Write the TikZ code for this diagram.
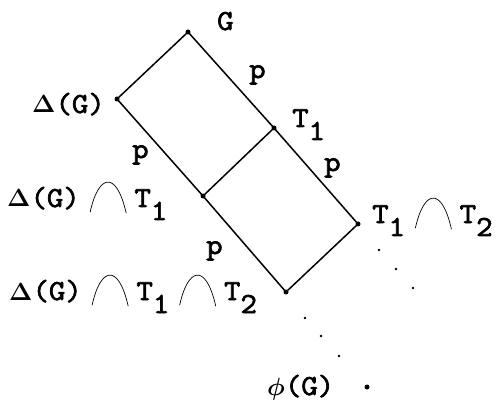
\documentclass[tikz,border=0pt]{standalone}
\usepackage{fontspec}
\newfontfamily\tw{Latin Modern Mono}[FakeStretch=1.1,FakeBold=2.4]
\newcommand\arccap{\hspace{10pt}\tikz[baseline=0pt,x=1pt,y=1pt]\draw[line width=0.7pt,line cap=round] (0,-5) .. controls (8,32) and (26,38) .. (36,-6);\hspace{8pt}}
\newcommand\subs[1]{\raisebox{-13pt}{#1}}
\newcommand\gk[1]{{\fontsize{25}{25}\selectfont$\boldsymbol{#1}$}}
\newcommand\dG{\gk{\Delta}(G)}
\usepackage{amsmath}
\begin{document}
\begin{tikzpicture}[x=1pt,y=-1pt,
  lbl/.style={inner sep=0pt,anchor=base west,font=\fontsize{29}{32}\selectfont\tw},
  vtx/.style={circle,fill,inner sep=0pt,minimum size=5pt},
  sdot/.style={circle,fill,inner sep=0pt,minimum size=2.6pt},
  edge/.style={line width=1.5pt}]
\useasboundingbox (0,0) rectangle (500,403);
% vertices
\node[vtx] (g) at (188,32) {};
\node[vtx] (d) at (117,99) {};
\node[vtx] (t1) at (274,128) {};
\node[vtx] (m) at (203,196) {};
\node[vtx] (tt) at (358,224) {};
\node[vtx] (b) at (286,292) {};
\draw[edge] (d.center) -- (g.center) -- (t1.center) -- (tt.center) -- (b.center) -- (m.center) -- (d.center);
\draw[edge] (t1.center) -- (m.center);
% dotted continuations
\node[sdot] (a1) at (379,250) {};
\node[sdot] (a2) at (396,269) {};
\node[sdot] (a3) at (413,288) {};
\node[sdot] (b1) at (305,318) {};
\node[sdot] (b2) at (321,336) {};
\node[sdot] (b3) at (339,356) {};
\node[vtx] (phi) at (367,387) {};
% labels
\node[lbl] (lg) at (217,30) {G};
\node[lbl] (ld) at (32,113) {\dG};
\node[lbl] (lt1) at (292,127) {T\subs{1}};
\node[lbl] (lm) at (7,207) {\dG\arccap T\subs{1}};
\node[lbl] (lb) at (9,300) {\dG\arccap T\subs{1}\arccap T\subs{2}};
\node[lbl] (ltt) at (372,223) {T\subs{1}\arccap T\subs{2}};
\node[lbl] (lphi) at (267,395) {\gk{\phi}(G)};
\node[lbl] (p1) at (249,78) {p};
\node[lbl] (p2) at (132,158) {p};
\node[lbl] (p3) at (324,171) {p};
\node[lbl] (p4) at (206,254) {p};
\end{tikzpicture}
\end{document}
